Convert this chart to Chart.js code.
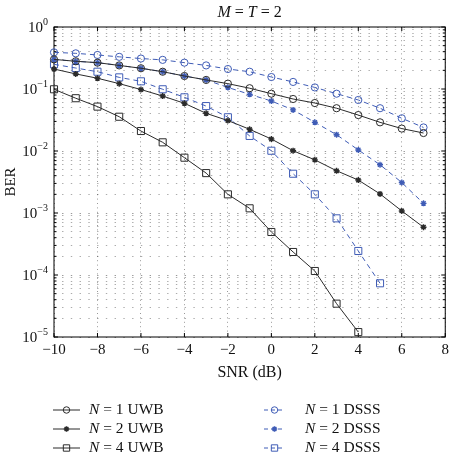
<!DOCTYPE html>
<html>
<head>
<meta charset="utf-8">
<script src="https://cdn.jsdelivr.net/npm/chart.js@4"></script>
<style>html,body{margin:0;background:#fff}</style>
</head>
<body>
<canvas id="chart" width="453" height="455"></canvas>
<script>
// SNR values (dB) at which BER was simulated
const snr = [-10, -9, -8, -7, -6, -5, -4, -3, -2, -1, 0, 1, 2, 3, 4, 5, 6, 7];

// BER curves
const uwbN1 = [0.30, 0.28, 0.266, 0.24, 0.216, 0.19, 0.162, 0.14, 0.122, 0.103, 0.084, 0.069, 0.0594, 0.049, 0.038, 0.029, 0.023, 0.0195];
const uwbN2 = [0.21, 0.175, 0.149, 0.122, 0.098, 0.077, 0.0588, 0.0405, 0.031, 0.0224, 0.0156, 0.0101, 0.0072, 0.0048, 0.0034, 0.00203, 0.00108, 0.00059];
const uwbN4 = [0.099, 0.071, 0.052, 0.0357, 0.021, 0.0138, 0.0078, 0.0044, 0.002, 0.00119, 0.000494, 0.000235, 0.000116, 0.0000345, 0.000012];
const dsssN1 = [0.39, 0.376, 0.354, 0.33, 0.31, 0.295, 0.266, 0.24, 0.21, 0.19, 0.156, 0.13, 0.106, 0.084, 0.0665, 0.049, 0.0337, 0.024];
const dsssN2 = [0.30, 0.28, 0.266, 0.24, 0.216, 0.19, 0.162, 0.14, 0.106, 0.082, 0.064, 0.046, 0.029, 0.0183, 0.0104, 0.006, 0.0031, 0.00143];
const dsssN4 = [0.25, 0.218, 0.19, 0.154, 0.133, 0.099, 0.0734, 0.053, 0.035, 0.0175, 0.0101, 0.0043, 0.002, 0.00082, 0.000244, 0.0000735];

// axis ticks
const xMajor = [-10, -8, -6, -4, -2, 0, 2, 4, 6, 8];
const xMinorStep = 0.4;
const yDecades = [-5, -4, -3, -2, -1, 0];
const yMinorMantissa = [1, 2, 3, 4, 5, 6, 7, 8, 9];

const SERIF = "'Liberation Serif', 'Times New Roman', serif";
const BLACK = '#2b2b2b';
const BLUE = '#3f5cb6';

const xTicks = [];
for (let v = xMajor[0]; v <= xMajor[xMajor.length - 1] + 1e-9; v += xMinorStep) {
	xTicks.push(Math.round(v * 10) / 10);
}
const yTicks = [];
yDecades.forEach((e, i) => {
	if (i === yDecades.length - 1) {
		yTicks.push(Math.pow(10, e));
		return;
	}
	yMinorMantissa.forEach((m) => yTicks.push(m * Math.pow(10, e)));
});

const isXMajor = (v) => xMajor.some((m) => Math.abs(m - v) < 1e-6);
const isDecade = (v) => Math.abs(Math.log10(v) - Math.round(Math.log10(v))) < 1e-9;

// plot box: 453 wide canvas, 54px y axis, 5px right padding
const plotWidth = 453 - 54 - 5;
const minorGap = plotWidth / (xTicks.length - 1);

function series(label, n, tech, values, color, dash, style, radius) {
	return {
		label: label,
		n: n,
		tech: tech,
		data: values.map((v, i) => ({ x: snr[i], y: v })),
		borderColor: color,
		backgroundColor: 'rgba(0,0,0,0)',
		borderWidth: 1,
		borderDash: dash,
		pointStyle: style,
		pointRadius: radius,
		pointBorderColor: color,
		pointBackgroundColor: style === 'star' ? color : 'rgba(0,0,0,0)',
		pointBorderWidth: style === 'star' ? 1.4 : 1,
		clip: false,
	};
}

const datasets = [
	series('N = 1 UWB', 1, 'UWB', uwbN1, BLACK, [], 'circle', 3.6),
	series('N = 2 UWB', 2, 'UWB', uwbN2, BLACK, [], 'star', 3),
	series('N = 4 UWB', 4, 'UWB', uwbN4, BLACK, [], 'rect', 5),
	series('N = 1 DSSS', 1, 'DSSS', dsssN1, BLUE, [5, 4], 'circle', 3.6),
	series('N = 2 DSSS', 2, 'DSSS', dsssN2, BLUE, [5, 4], 'star', 3),
	series('N = 4 DSSS', 4, 'DSSS', dsssN4, BLUE, [5, 4], 'rect', 5),
];

// draw a string where some parts are italic
function drawParts(ctx, parts, x, y, size) {
	let cx = x;
	parts.forEach(([txt, italic]) => {
		ctx.font = (italic ? 'italic ' : '') + size + 'px ' + SERIF;
		ctx.fillText(txt, cx, y);
		cx += ctx.measureText(txt).width;
	});
	return cx - x;
}
function partsWidth(ctx, parts, size) {
	return parts.reduce((w, [txt, italic]) => {
		ctx.font = (italic ? 'italic ' : '') + size + 'px ' + SERIF;
		return w + ctx.measureText(txt).width;
	}, 0);
}

const framePlugin = {
	id: 'frame',
	beforeDatasetsDraw(chart) {
		const { ctx, chartArea: a, scales } = chart;
		ctx.save();
		ctx.strokeStyle = '#000';
		ctx.lineWidth = 1;
		ctx.strokeRect(a.left, a.top, a.right - a.left, a.bottom - a.top);
		ctx.beginPath();
		xMajor.forEach((v) => {
			const px = scales.x.getPixelForValue(v);
			ctx.moveTo(px, a.bottom);
			ctx.lineTo(px, a.bottom - 4);
			ctx.moveTo(px, a.top);
			ctx.lineTo(px, a.top + 4);
		});
		yTicks.forEach((v) => {
			const py = scales.y.getPixelForValue(v);
			const len = isDecade(v) ? 4 : 2.5;
			ctx.moveTo(a.left, py);
			ctx.lineTo(a.left + len, py);
			ctx.moveTo(a.right, py);
			ctx.lineTo(a.right - len, py);
		});
		ctx.stroke();
		ctx.restore();
	},
	afterDraw(chart) {
		const { ctx, chartArea: a, scales } = chart;
		ctx.save();
		ctx.fillStyle = '#111';
		ctx.textBaseline = 'middle';
		ctx.textAlign = 'left';

		// y tick labels as 10 with a raised exponent
		yDecades.forEach((e) => {
			const py = scales.y.getPixelForValue(Math.pow(10, e));
			const exp = e < 0 ? '\u2212' + Math.abs(e) : String(e);
			ctx.font = '15px ' + SERIF;
			const wBase = ctx.measureText('10').width;
			ctx.font = '10px ' + SERIF;
			const wExp = ctx.measureText(exp).width;
			const x0 = a.left - 6 - wBase - wExp;
			ctx.font = '15px ' + SERIF;
			ctx.fillText('10', x0, py + 1);
			ctx.font = '10px ' + SERIF;
			ctx.fillText(exp, x0 + wBase, py - 5);
		});

		// title
		const title = [['M', true], [' = ', false], ['T', true], [' = 2', false]];
		const tw = partsWidth(ctx, title, 16);
		drawParts(ctx, title, (a.left + a.right) / 2 - tw / 2, 13, 16);

		// legend: UWB left column, DSSS right column
		const rowY = [410, 429, 448];
		const cols = { UWB: { x0: 53, x1: 80, tx: 89 }, DSSS: { x0: 264, x1: 285, tx: 305 } };
		const rowOf = { 1: 0, 2: 1, 4: 2 };
		chart.data.datasets.forEach((ds) => {
			const c = cols[ds.tech];
			const y = rowY[rowOf[ds.n]];
			ctx.save();
			ctx.strokeStyle = ds.borderColor;
			ctx.lineWidth = 1;
			ctx.setLineDash(ds.borderDash.length ? [4, 3] : []);
			ctx.beginPath();
			ctx.moveTo(c.x0, y);
			ctx.lineTo(c.x1, y);
			ctx.stroke();
			ctx.setLineDash([]);
			ctx.fillStyle = ds.pointBackgroundColor;
			ctx.lineWidth = ds.pointBorderWidth;
			Chart.helpers.drawPoint(ctx, { pointStyle: ds.pointStyle, radius: ds.pointRadius * 0.9, rotation: 0, borderWidth: ds.pointBorderWidth }, (c.x0 + c.x1) / 2, y);
			ctx.restore();
			ctx.fillStyle = '#111';
			drawParts(ctx, [['N', true], [' = ' + ds.n + ' ' + ds.tech, false]], c.tx, y, 15.5);
		});
		ctx.restore();
	},
};

new Chart(document.getElementById('chart'), {
	type: 'line',
	data: { datasets: datasets },
	plugins: [framePlugin],
	options: {
		responsive: false,
		animation: false,
		devicePixelRatio: 1,
		layout: { padding: { top: 27, right: 5, bottom: 73, left: 0 } },
		plugins: { legend: { display: false }, tooltip: { enabled: false } },
		scales: {
			x: {
				type: 'linear',
				min: -10,
				max: 8,
				afterBuildTicks: (scale) => {
					scale.ticks = xTicks.map((v) => ({ value: v }));
				},
				afterFit: (scale) => {
					scale.height = 45;
				},
				ticks: {
					autoSkip: false,
					maxRotation: 0,
					padding: 4,
					color: '#111',
					font: { family: SERIF, size: 15 },
					callback: (v) => (isXMajor(v) ? (v < 0 ? '\u2212' + Math.abs(Math.round(v)) : String(Math.round(v))) : ''),
				},
				grid: {
					drawTicks: false,
					// minor verticals only show where they cross the horizontal dots
					color: (c) => (c.tick && isXMajor(c.tick.value) ? 'rgba(0,0,0,0.4)' : 'rgba(0,0,0,0)'),
				},
				border: { display: false, dash: [1, 3.4] },
				title: { display: true, text: 'SNR (dB)', color: '#111', font: { family: SERIF, size: 16 }, padding: { top: 4, bottom: 0 } },
			},
			y: {
				type: 'logarithmic',
				min: 1e-5,
				max: 1,
				afterBuildTicks: (scale) => {
					scale.ticks = yTicks.map((v) => ({ value: v }));
				},
				afterFit: (scale) => {
					scale.width = 54;
				},
				ticks: {
					autoSkip: false,
					padding: 5,
					// labels are drawn with superscripts by the frame plugin
					callback: () => '',
				},
				grid: {
					drawTicks: false,
					color: (c) => (c.tick && isDecade(c.tick.value) ? 'rgba(0,0,0,0.4)' : 'rgba(0,0,0,0.33)'),
				},
				border: { display: false, dash: [1.4, minorGap - 1.4], dashOffset: 0.7 },
				title: { display: true, text: 'BER', color: '#111', font: { family: SERIF, size: 15 }, padding: { top: 2, bottom: 0 } },
			},
		},
	},
});
</script>
</body>
</html>
